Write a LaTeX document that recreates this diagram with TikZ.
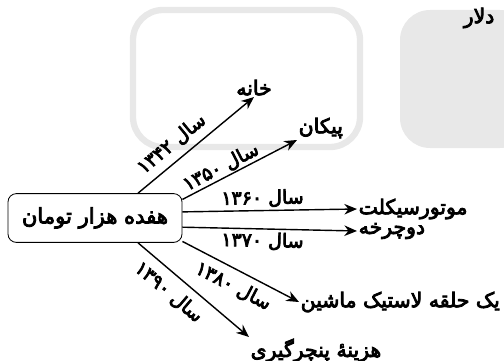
\documentclass[tikz,border=0pt]{standalone}
\usepackage{fontspec}
\usepackage{tikz}
\usetikzlibrary{arrows.meta}
\newfontfamily\fa[Script=Arabic,FakeBold=4]{DejaVu Sans}
\TeXXeTstate=1

\begin{document}
\begin{tikzpicture}
[x=0.025cm,y=-0.025cm,
%%%%%%%%%%%%%%%%%%%%%%%%%%%%%%
mabda/.style={rectangle,draw=black,semithick,rounded corners=6pt,minimum width=4.35cm,minimum height=1.22cm,font=\fa\fontsize{15}{17}\selectfont},
hadaf/.style={inner sep=1pt,font=\fa\fontsize{14.5}{16}\selectfont},
saal/.style={sloped,inner sep=1pt,font=\fa\fontsize{13.5}{15}\selectfont},
arr/.style={-{Stealth[length=9pt,width=7.5pt]},line width=1pt},
logo/.style={draw=black!9,line width=4.5pt,rounded corners=0.75cm},
]%%%%%%%%%%%%%%%%%%%%%%%%%%%%%%
\useasboundingbox (0,0) rectangle (504,360);

% background
\draw[logo] (133,10) rectangle (360,147);
\fill[black!9,rounded corners=0.75cm] (400,10) rectangle (530,148);
\node[hadaf,anchor=north east] (dolar) at (496,6) {دلار};

\node[mabda] (mabda) at (95,218) {\beginR هفده هزار تومان\endR};

\node[hadaf,anchor=south] (khane) at (254,97) {خانه};
\node[hadaf,anchor=south west] (paykan) at (297,140) {پیکان};
\node[hadaf,anchor=west] (motor) at (357,209) {موتورسیکلت};
\node[hadaf,anchor=west] (docharkhe) at (357,231) {دوچرخه};
\node[hadaf,anchor=west] (lastik) at (299,302) {\beginR یک حلقه لاستیک ماشین\endR};
\node[hadaf,anchor=north west] (panchar) at (249,337) {\beginR هزینهٔ پنچرگیری\endR};

\draw[arr] (mabda.30) -- node[saal,pos=0.38,above=4pt] {\beginR سال \beginL۱۳۴۲\endL\endR} (khane.south);
\draw[arr] (mabda.12) -- node[saal,pos=0.38,above=0pt] {\beginR سال \beginL۱۳۵۰\endL\endR} (paykan.south west);
\draw[arr] (mabda.4) -- node[saal,pos=0.46,above=1pt] {\beginR سال \beginL۱۳۶۰\endL\endR} (motor.west);
\draw[arr] (mabda.-6) -- node[saal,pos=0.46,below=1pt] {\beginR سال \beginL۱۳۷۰\endL\endR} (docharkhe.west);
\draw[arr] (mabda.-15) -- node[saal,pos=0.5,below=4pt] {\beginR سال \beginL۱۳۸۰\endL\endR} (lastik.west);
\draw[arr] (mabda.-30) -- node[saal,pos=0.38,below=5pt] {\beginR سال \beginL۱۳۹۰\endL\endR} (panchar.north west);
\end{tikzpicture}
\end{document}
